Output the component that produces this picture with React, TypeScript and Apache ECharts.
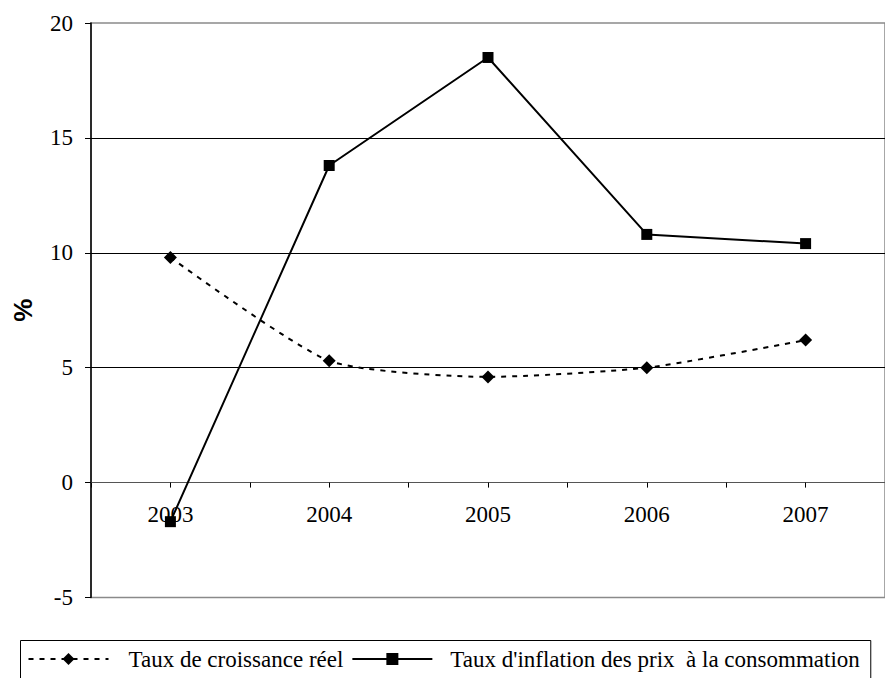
import React, { useEffect, useRef } from "react";
import * as echarts from "echarts";

const years = ["2003", "2004", "2005", "2006", "2007"];
const growth = [9.8, 5.3, 4.6, 5.0, 6.2];
const inflation = [-1.7, 13.8, 18.5, 10.8, 10.4];
const growthName = "Taux de croissance réel";
const inflationName = "Taux d'inflation des prix  à la consommation";
const yMin = -5;
const yMax = 20;
const yStep = 5;
const yAxisTitle = "%";

export default function App() {
  const ref = useRef<HTMLDivElement>(null);
  useEffect(() => {
    document.body.style.margin = "0";
    const chart = echarts.init(ref.current!, null, { renderer: "svg" });
    const font = "Liberation Serif";
    const gridTop = 23;
    const gridHeight = 574.5;
    // move the category axis from the grid bottom up to the value 0
    const zeroShift = -(gridHeight * (0 - yMin)) / (yMax - yMin);
    chart.setOption({
      animation: false,
      backgroundColor: "#fff",
      textStyle: { fontFamily: font },
      grid: {
        left: 91,
        top: gridTop,
        width: 807.5,
        height: gridHeight,
        show: true,
        borderColor: "#8a8a8a",
        borderWidth: 1.5,
        backgroundColor: "transparent",
      },
      xAxis: [
        {
          type: "category",
          data: years,
          position: "bottom",
          offset: zeroShift,
          boundaryGap: true,
          axisLine: { onZero: false, lineStyle: { color: "#555", width: 1.2 } },
          axisTick: { show: true, length: 5, lineStyle: { color: "#000" } },
          axisLabel: { color: "#000", fontSize: 23, margin: 20, fontFamily: font },
          splitLine: { show: false },
        },
        {
          type: "category",
          data: years,
          position: "bottom",
          offset: zeroShift,
          boundaryGap: true,
          axisLine: { show: false, onZero: false },
          axisTick: { show: true, alignWithLabel: true, length: 5, lineStyle: { color: "#000" } },
          axisLabel: { show: false },
          splitLine: { show: false },
        },
      ],
      yAxis: {
        type: "value",
        min: yMin,
        max: yMax,
        interval: yStep,
        name: yAxisTitle,
        nameLocation: "middle",
        nameGap: 55,
        nameRotate: 90,
        nameTextStyle: {
          fontFamily: "Liberation Sans",
          fontWeight: "bold",
          fontSize: 26,
          color: "#000",
        },
        axisLine: { show: true, lineStyle: { color: "#000", width: 1.5 } },
        axisTick: { show: true, length: 6, lineStyle: { color: "#000" } },
        axisLabel: { color: "#000", fontSize: 23, margin: 18, fontFamily: font },
        splitLine: {
          show: true,
          showMinLine: false,
          showMaxLine: false,
          lineStyle: { color: "#000", width: 1 },
        },
      },
      legend: {
        left: 20.5,
        top: 640.5,
        padding: [7, 11, 10, 7],
        borderColor: "#000",
        borderWidth: 1,
        itemWidth: 80,
        itemHeight: 15,
        itemGap: 8,
        selectedMode: false,
        textStyle: { fontSize: 23, color: "#000", fontFamily: font },
        data: [
          { name: growthName, textStyle: { padding: [0, 0, 0, 15], fontFamily: font, fontSize: 23 } },
          { name: inflationName, textStyle: { padding: [0, 0, 0, 13], fontFamily: font, fontSize: 23 } },
        ],
      },
      series: [
        {
          name: growthName,
          type: "line",
          data: growth,
          smooth: 0.2,
          symbol: "diamond",
          symbolSize: 13,
          lineStyle: { color: "#000", width: 2, type: [5, 6] },
          itemStyle: { color: "#000" },
          z: 3,
        },
        {
          name: inflationName,
          type: "line",
          data: inflation,
          symbol: "rect",
          symbolSize: 11,
          lineStyle: { color: "#000", width: 2 },
          itemStyle: { color: "#000" },
          z: 4,
        },
      ],
    });
    return () => chart.dispose();
  }, []);
  return <div ref={ref} style={{ width: 885, height: 678 }} />;
}
